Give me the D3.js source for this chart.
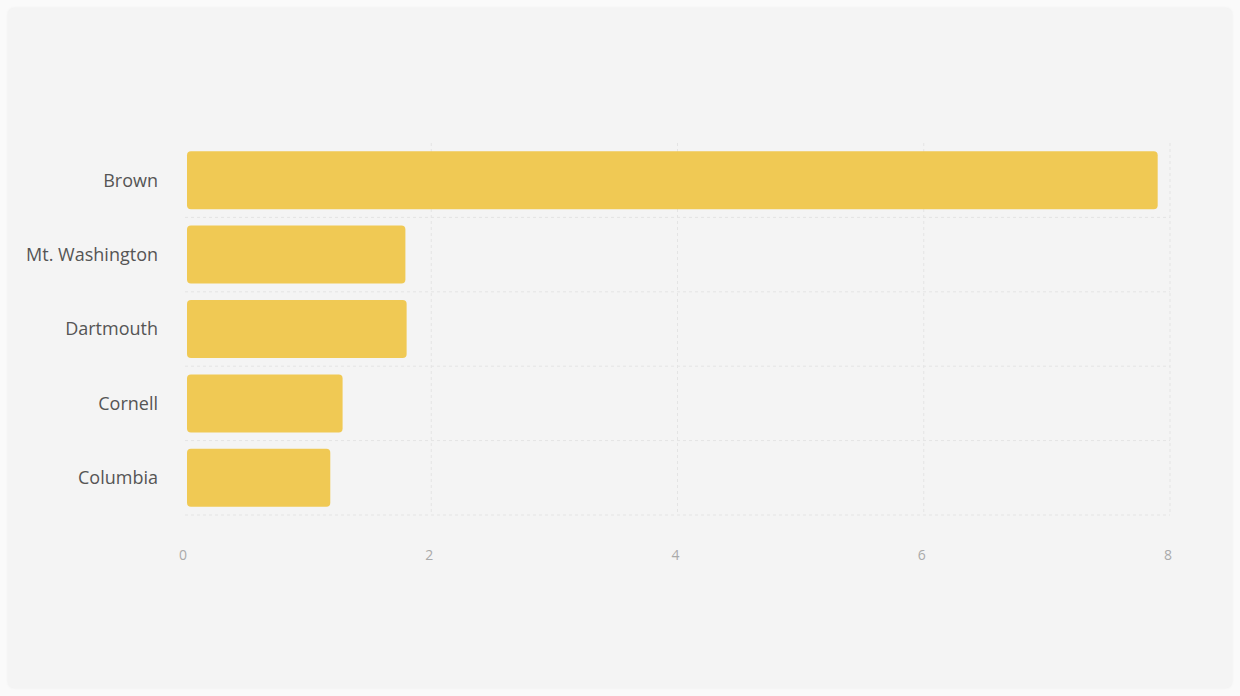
<!DOCTYPE html>
<html>
<head>
<meta charset="utf-8">
<script src="https://cdn.jsdelivr.net/npm/d3@7"></script>
<style>
  html, body { margin: 0; padding: 0; background: #fafafa; }
  #chart { position: absolute; left: 8px; top: 8px; width: 1224px; height: 680px;
           background: #f4f4f4; border-radius: 6px; box-shadow: 0 0 3px rgba(0,0,0,0.06); }
  text { font-family: "Open Sans", "Noto Sans", sans-serif; }
</style>
</head>
<body>
<div id="chart"></div>
<script>
// chart data
const categories = ['Brown', 'Mt. Washington', 'Dartmouth', 'Cornell', 'Columbia'];
const values = [7.9, 1.79, 1.8, 1.28, 1.18];
const xTicks = [0, 2, 4, 6, 8];

const width = 1224;
const height = 680;
const margin = { top: 135, right: 62, bottom: 173, left: 177 };

const svg = d3.select('#chart').append('svg')
    .attr('width', width)
    .attr('height', height);

const x = d3.scaleLinear()
    .domain([0, 8])
    .range([margin.left, width - margin.right]);

const y = d3.scaleBand()
    .domain(categories)
    .range([margin.top, height - margin.bottom])
    .paddingInner(0.22)
    .paddingOuter(0.11);

// dashed grid
const grid = svg.append('g').attr('class', 'grid');
grid.selectAll('line.v')
    .data(xTicks.slice(1))
    .enter().append('line')
    .attr('class', 'v')
    .attr('x1', d => x(d)).attr('x2', d => x(d))
    .attr('y1', margin.top).attr('y2', height - margin.bottom)
    .attr('stroke', '#e4e4e4')
    .attr('stroke-dasharray', '3,3');

const step = y.step();
grid.selectAll('line.h')
    .data(categories)
    .enter().append('line')
    .attr('class', 'h')
    .attr('x1', margin.left).attr('x2', width - margin.right)
    .attr('y1', d => y(d) + y.bandwidth() + step * y.paddingInner() / 2)
    .attr('y2', d => y(d) + y.bandwidth() + step * y.paddingInner() / 2)
    .attr('stroke', '#e4e4e4')
    .attr('stroke-dasharray', '3,3');

// bars
svg.append('g')
    .selectAll('rect')
    .data(values)
    .enter().append('rect')
    .attr('x', x(0) + 2)
    .attr('y', (d, i) => y(categories[i]))
    .attr('width', d => x(d) - x(0) - 2)
    .attr('height', y.bandwidth())
    .attr('rx', 4)
    .attr('fill', '#f0c954');

// y labels
svg.append('g')
    .selectAll('text')
    .data(categories)
    .enter().append('text')
    .attr('x', margin.left - 27)
    .attr('y', d => y(d) + y.bandwidth() / 2)
    .attr('dy', '0.35em')
    .attr('text-anchor', 'end')
    .attr('font-size', 18)
    .attr('fill', '#555')
    .text(d => d);

// x tick labels
svg.append('g')
    .selectAll('text')
    .data(xTicks)
    .enter().append('text')
    .attr('x', d => x(d) - 2)
    .attr('y', height - margin.bottom + 45)
    .attr('text-anchor', 'middle')
    .attr('font-size', 14)
    .attr('fill', '#aaa')
    .text(d => d);
</script>
</body>
</html>
